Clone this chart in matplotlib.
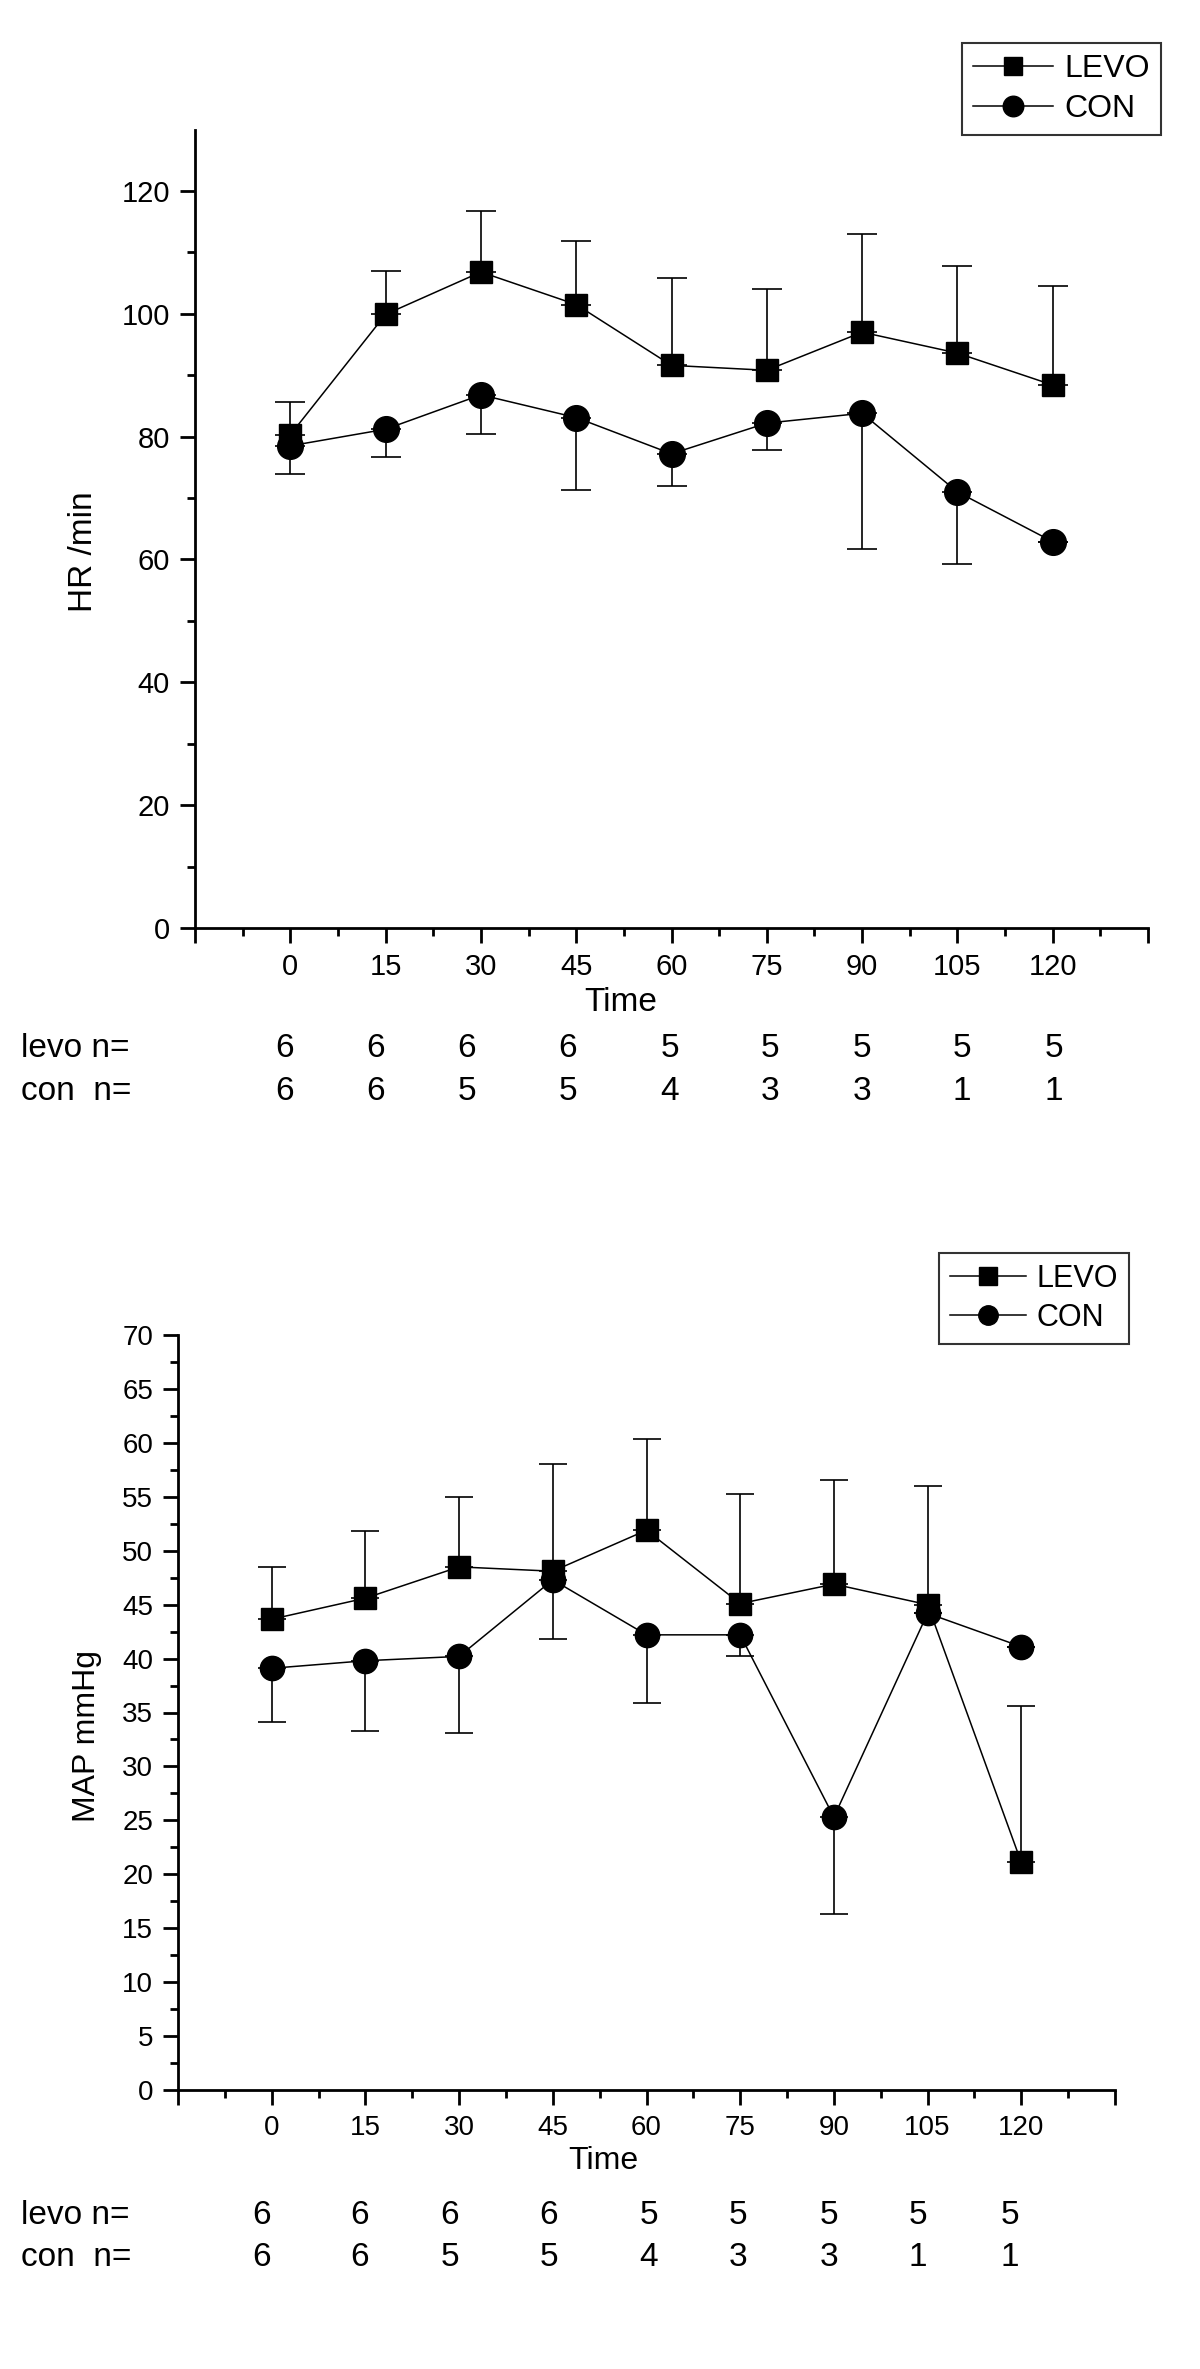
import numpy as np
import matplotlib
matplotlib.use('Agg')
import matplotlib.pyplot as plt
from matplotlib.ticker import MultipleLocator, FixedLocator

plt.rcParams['font.family'] = ['Liberation Sans', 'DejaVu Sans']

# data
time = [0, 15, 30, 45, 60, 75, 90, 105, 120]

hr_levo = [80.3, 99.9, 106.8, 101.5, 91.6, 90.8, 97.0, 93.6, 88.4]
hr_levo_err = [5.4, 7.1, 9.9, 10.4, 14.2, 13.3, 16.0, 14.1, 16.2]
hr_con = [78.5, 81.2, 86.8, 83.1, 77.2, 82.2, 83.8, 71.0, 62.9]
hr_con_err = [4.6, 4.6, 6.3, 11.8, 5.2, 4.3, 22.1, 11.8, 0]

map_levo = [43.65, 45.6, 48.5, 48.1, 51.9, 45.1, 46.9, 45.0, 21.1]
map_levo_err = [4.85, 6.25, 6.5, 9.9, 8.5, 10.2, 9.7, 11.0, 14.5]
map_con = [39.1, 39.8, 40.2, 47.3, 42.2, 42.2, 25.3, 44.2, 41.1]
map_con_err = [5.0, 6.5, 7.1, 5.5, 6.3, 2.0, 9.0, 0, 0]

n_levo = [6, 6, 6, 6, 5, 5, 5, 5, 5]
n_con = [6, 6, 5, 5, 4, 3, 3, 1, 1]

W, H = 1200, 2369
fig = plt.figure(figsize=(W / 100, H / 100), dpi=100)


def px(x, y):
    return x / W, 1 - y / H


def draw_panel(rect, levo, levo_err, con, con_err, ylim, ymaj, ymin_step, ylabel,
               fs_tick, fs_label, sq, ci, cap, legend_anchor, fs_leg,
               xlabel_pos, ylabel_pos, n_xs, n_ys, fs_n):
    ax = fig.add_axes(rect)
    zeros = np.zeros(len(time))
    ax.errorbar(time, levo, yerr=[zeros, levo_err], fmt='none', ecolor='black',
                elinewidth=1.2, capsize=cap, capthick=1.2, zorder=1)
    ax.errorbar(time, con, yerr=[con_err, zeros], fmt='none', ecolor='black',
                elinewidth=1.2, capsize=cap, capthick=1.2, zorder=1)
    ax.plot(time, levo, '-s', color='black', lw=1.1, ms=sq, label='LEVO', zorder=3)
    ax.plot(time, con, '-o', color='black', lw=1.1, ms=ci, label='CON', zorder=4)

    ax.set_xlim(-15, 135)
    ax.set_ylim(0, ylim)
    ax.xaxis.set_major_locator(FixedLocator(np.arange(-15, 136, 15)))
    ax.set_xticklabels([''] + [str(t) for t in time] + [''])
    ax.xaxis.set_minor_locator(FixedLocator(np.arange(-7.5, 135, 15)))
    ax.yaxis.set_major_locator(MultipleLocator(ymaj))
    ax.yaxis.set_minor_locator(FixedLocator(np.arange(ymin_step, ylim - 1e-6, ymaj)))

    for s in ['top', 'right']:
        ax.spines[s].set_visible(False)
    for s in ['left', 'bottom']:
        ax.spines[s].set_linewidth(2)
    ax.tick_params(which='major', direction='out', length=11, width=2,
                   labelsize=fs_tick, pad=7)
    ax.tick_params(which='minor', direction='out', length=6, width=2)

    ax.set_xlabel('Time', fontsize=fs_label)
    ax.xaxis.set_label_coords(*xlabel_pos)
    ax.xaxis.label.set_va('center')
    ax.set_ylabel(ylabel, fontsize=fs_label)
    ax.yaxis.set_label_coords(*ylabel_pos)
    ax.yaxis.label.set_va('center')

    leg = fig.legend(loc='upper right', bbox_to_anchor=legend_anchor,
                     fontsize=fs_leg, frameon=True, fancybox=False,
                     handlelength=2.5, handletextpad=0.35, labelspacing=0.3,
                     borderpad=0.35, markerscale=0.8, borderaxespad=0,
                     handles=ax.get_lines()[-2:])
    leg.get_frame().set_edgecolor('black')
    leg.get_frame().set_linewidth(1.5)

    for lab, ns, yy in [('levo n=', n_levo, n_ys[0]), ('con  n=', n_con, n_ys[1])]:
        fig.text(*px(21, yy), lab, fontsize=fs_n, va='center', ha='left')
        for xx, n in zip(n_xs, ns):
            fig.text(*px(xx, yy), str(n), fontsize=fs_n, va='center', ha='center')
    return ax


# top panel: heart rate
l, r, t, b = 195, 1148, 129.5, 928
draw_panel([l / W, 1 - b / H, (r - l) / W, (b - t) / H],
           hr_levo, hr_levo_err, hr_con, hr_con_err,
           130, 20, 10, 'HR /min', 21, 24, 16.5, 18.5, 11,
           px(1161, 43), 23,
           (0.447, -0.093), (-0.1175, 0.471),
           [285, 376, 467, 568, 670, 770, 862, 962, 1054], (1048, 1091), 24)

# bottom panel: mean arterial pressure
l, r, t, b = 178, 1115, 1335, 2090
draw_panel([l / W, 1 - b / H, (r - l) / W, (b - t) / H],
           map_levo, map_levo_err, map_con, map_con_err,
           70, 5, 2.5, 'MAP mmHg', 20, 23, 16, 17.5, 10,
           px(1129, 1253), 22,
           (0.454, -0.094), (-0.097, 0.469),
           [262, 360, 450, 549, 649, 738, 829, 918, 1010], (2215, 2257), 24)

fig.savefig('out.png', dpi=100, facecolor='white')
